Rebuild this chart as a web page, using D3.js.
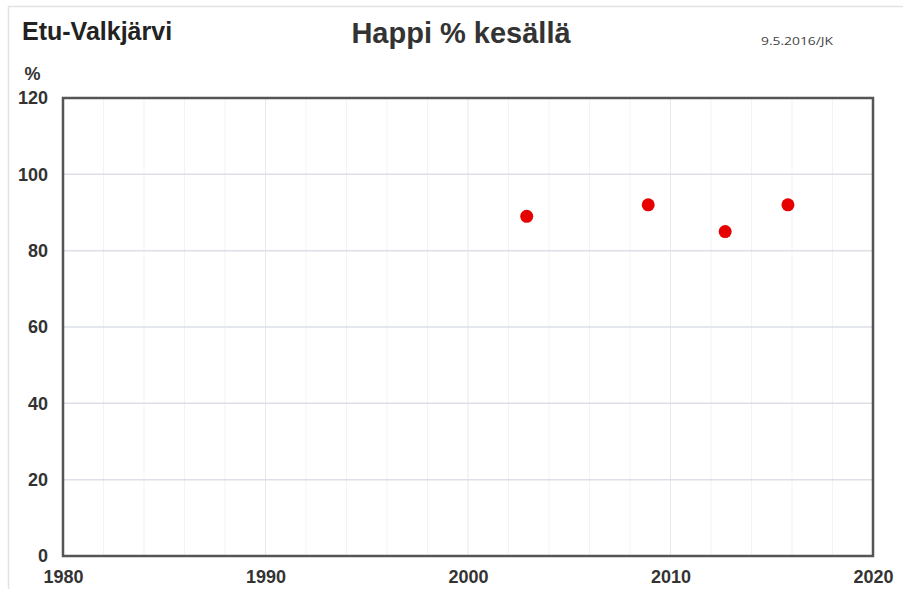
<!DOCTYPE html>
<html>
<head>
<meta charset="utf-8">
<script src="https://cdn.jsdelivr.net/npm/d3@7"></script>
<style>
  body { margin: 0; background: #fff; }
  svg { display: block; font-family: Arial, "Liberation Sans", sans-serif; }
</style>
</head>
<body>
<div id="chart"></div>
<script>
let years = [2002.9, 2008.9, 2012.7, 2015.8];
let oxygen = [89, 92, 85, 92];
let xTicks = [1980, 1990, 2000, 2010, 2020];
let yTicks = [0, 20, 40, 60, 80, 100, 120];

let width = 903, height = 589;
let margin = { top: 98, left: 63, right: 30, bottom: 33 };

let xScale = d3.scaleLinear().domain([1980, 2020]).range([margin.left, width - margin.right]);
let yScale = d3.scaleLinear().domain([0, 120]).range([height - margin.bottom, margin.top]);

let svg = d3.select("#chart").append("svg")
    .attr("width", width)
    .attr("height", height);

// faint frame around the whole picture
svg.append("line").attr("x1", 8).attr("x2", width).attr("y1", 6.5).attr("y2", 6.5)
    .attr("stroke", "#e2e2e2").attr("stroke-width", 1.5);
svg.append("line").attr("x1", 8.5).attr("x2", 8.5).attr("y1", 6).attr("y2", height)
    .attr("stroke", "#e2e2e2").attr("stroke-width", 1.5);

// minor vertical grid every 2 years
let minor = d3.range(1982, 2020, 2);
svg.selectAll(".vminor").data(minor).enter().append("line")
    .attr("x1", d => xScale(d)).attr("x2", d => xScale(d))
    .attr("y1", yScale(120)).attr("y2", yScale(0))
    .attr("stroke", d => d % 10 == 0 ? "#e6e8f0" : "#f3f3f6")
    .attr("stroke-width", 1);

// horizontal grid
svg.selectAll(".hgrid").data(yTicks.slice(1, -1)).enter().append("line")
    .attr("x1", xScale(1980)).attr("x2", xScale(2020))
    .attr("y1", d => yScale(d)).attr("y2", d => yScale(d))
    .attr("stroke", "#dcdfe8").attr("stroke-width", 1.5);

// plot frame
svg.append("rect")
    .attr("x", xScale(1980)).attr("y", yScale(120))
    .attr("width", xScale(2020) - xScale(1980))
    .attr("height", yScale(0) - yScale(120))
    .attr("fill", "none").attr("stroke", "#555").attr("stroke-width", 2.5);

// axes (labels only)
let yAxis = svg.append("g")
    .attr("transform", "translate(" + (margin.left - 15) + ",0)")
    .call(d3.axisLeft(yScale).tickValues(yTicks).tickSize(0).tickPadding(0));
yAxis.select(".domain").remove();
yAxis.selectAll("text")
    .attr("font-size", 18).attr("font-weight", "bold").attr("fill", "#333")
    .attr("font-family", "Arial, 'Liberation Sans', sans-serif");

let xAxis = svg.append("g")
    .attr("transform", "translate(0," + (height - margin.bottom + 14) + ")")
    .call(d3.axisBottom(xScale).tickValues(xTicks).tickFormat(d3.format("d")).tickSize(0).tickPadding(0));
xAxis.select(".domain").remove();
xAxis.selectAll("text")
    .attr("font-size", 18).attr("font-weight", "bold").attr("fill", "#333")
    .attr("font-family", "Arial, 'Liberation Sans', sans-serif");

// points
svg.selectAll(".dot").data(years).enter().append("circle")
    .attr("cx", d => xScale(d))
    .attr("cy", (d, i) => yScale(oxygen[i]))
    .attr("r", 6.5)
    .attr("fill", "#e60000");

// titles
svg.append("text").attr("x", 22).attr("y", 40)
    .attr("font-size", 25).attr("font-weight", "bold").attr("fill", "#222")
    .text("Etu-Valkjärvi");
svg.append("text").attr("x", 461).attr("y", 43).attr("text-anchor", "middle")
    .attr("font-size", 29).attr("font-weight", "bold").attr("fill", "#333")
    .text("Happi % kesällä");
svg.append("text").attr("x", 761).attr("y", 45)
    .attr("font-size", 10).attr("fill", "#444")
    .attr("font-family", "'Open Sans', sans-serif")
    .attr("textLength", 72).attr("lengthAdjust", "spacingAndGlyphs")
    .text("9.5.2016/JK");
svg.append("text").attr("x", 32.5).attr("y", 80).attr("text-anchor", "middle")
    .attr("font-size", 18).attr("font-weight", "bold").attr("fill", "#333")
    .text("%");
</script>
</body>
</html>
